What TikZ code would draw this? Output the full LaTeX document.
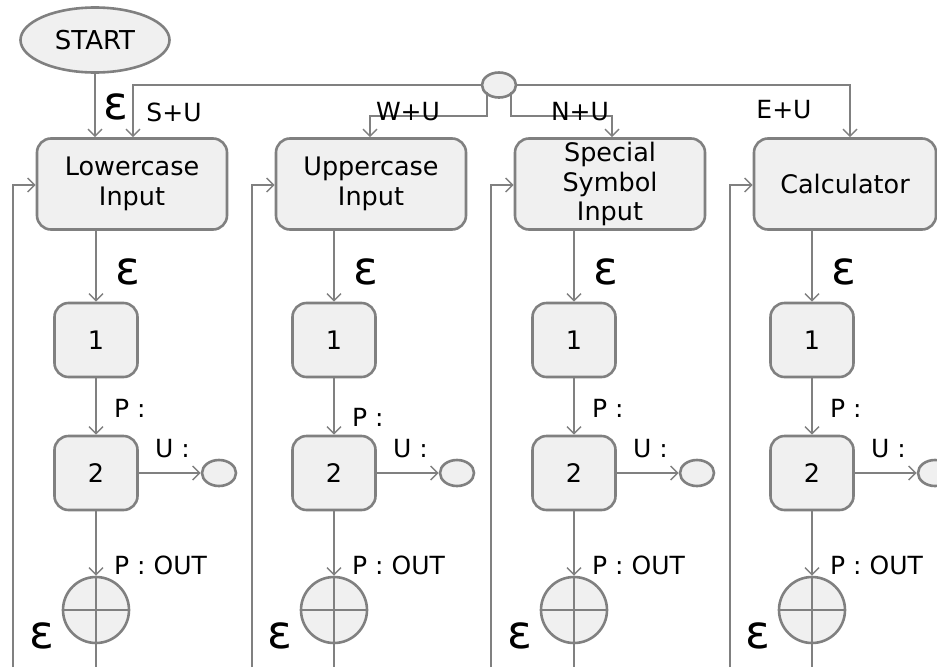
\documentclass[tikz,border=0pt]{standalone}
\usepackage{fontspec}
\setmainfont{DejaVu Sans}
\usetikzlibrary{arrows.meta,shapes.geometric}
\definecolor{ln}{HTML}{808080}
\definecolor{fl}{HTML}{F0F0F0}
\tikzset{
  box/.style={draw=ln, fill=fl, line width=2.6pt, rounded corners=14pt, inner sep=0pt, align=center, font=\fontsize{25.5}{29.5}\selectfont},
  bigbox/.style={box, minimum width=190pt, minimum height=91pt},
  smallbox/.style={box, minimum width=83pt, minimum height=74pt},
  oval/.style={draw=ln, fill=fl, line width=2.6pt, ellipse, inner sep=0pt},
  conn/.style={draw=ln, line width=1.4pt, -{Straight Barb[length=7pt,width=14pt,line width=1.4pt]}},
  plain/.style={draw=ln, line width=1.4pt},
  lbl/.style={font=\fontsize{25}{28}\selectfont, inner sep=0pt},
  eps/.style={font=\fontsize{46}{46}\selectfont, inner sep=0pt},
}
\begin{document}
\begin{tikzpicture}[x=1pt,y=-1pt]
\useasboundingbox (0,0) rectangle (937,667);
\clip (0,0) rectangle (937,667);
% start
\node[oval, minimum width=149pt, minimum height=65pt, font=\fontsize{26}{28}\selectfont] (start) at (95,40) {START};
\node[oval, minimum width=34pt, minimum height=25pt] (hub) at (499,85) {};
% big boxes
\node[bigbox] (b1) at (132,184) {Lowercase\\Input};
\node[bigbox] (b2) at (371,184) {Uppercase\\Input};
\node[bigbox] (b3) at (610,184) {Special\\Symbol\\Input};
\node[bigbox, minimum width=182pt] (b4) at (845,184) {Calculator};
% columns
\foreach \i/\cx/\fx/\py in {1/96/13/408, 2/334/252/417, 3/574/491/408, 4/812/730/408}{
  \node[smallbox] (o\i) at (\cx,340) {1};
  \node[smallbox] (t\i) at (\cx,473) {2};
  \node[oval, minimum width=34pt, minimum height=26pt] (e\i) at (\cx+123,473) {};
  \node[draw=ln, fill=fl, line width=2.6pt, circle, minimum size=66pt, inner sep=0pt] (c\i) at (\cx,610) {};
  \draw[plain] (c\i.west) -- (c\i.east);
  \draw[plain] (c\i.north) -- (c\i.south);
  \coordinate (bt\i) at (\cx,667);
  \coordinate (top\i) at (\cx,230);
  \draw[conn] (top\i) -- (o\i);
  \draw[conn] (o\i) -- (t\i);
  \draw[conn] (t\i) -- (c\i);
  \draw[plain] (c\i.south) -- (bt\i);
  \draw[conn] (t\i) -- (e\i);
  \coordinate (fb\i) at (\fx,667);
  \coordinate (fk\i) at (\fx,185);
  \draw[conn] (fb\i) -- (fk\i) -- (fk\i -| b\i.west);
  \node[eps] at (\cx+32,272) {ε};
  \node[lbl, anchor=west] at (\cx+18,\py) {P :};
  \node[lbl, anchor=west] at (\cx+59,449) {U :};
  \node[lbl, anchor=west] at (\cx+18,565) {P : OUT};
  \node[eps] at (\cx-54,636) {ε};
}
% start arrow
\draw[conn] (start) -- (start.south |- b1.north);
\node[eps] at (116,107) {ε};
% hub connectors
\coordinate (h1) at (133,85);
\draw[conn] (hub.west) -- (h1) -- (h1 |- b1.north);
\coordinate (h4) at (850,85);
\draw[conn] (hub.east) -- (h4) -- (h4 |- b4.north);
\coordinate (h2a) at (487,92);
\coordinate (h2) at (370,116);
\draw[conn] (h2a) -- (h2a |- h2) -- (h2) -- (h2 |- b2.north);
\coordinate (h3a) at (511,92);
\coordinate (h3) at (612,116);
\draw[conn] (h3a) -- (h3a |- h3) -- (h3) -- (h3 |- b3.north);
\node[lbl] at (174,112) {S+U};
\node[lbl] at (408,112) {W+U};
\node[lbl] at (580,112) {N+U};
\node[lbl] at (784,110) {E+U};
\end{tikzpicture}
\end{document}
